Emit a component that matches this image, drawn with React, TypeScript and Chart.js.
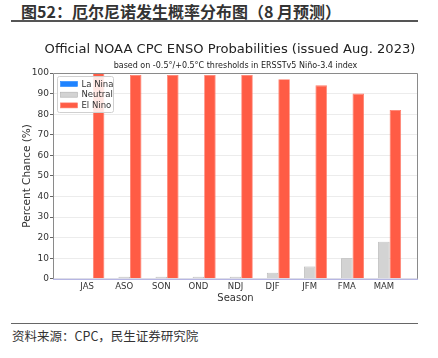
import React, { useEffect, useRef } from "react";
import { Chart, registerables } from "chart.js";

Chart.register(...registerables);

const seasons = ["JAS", "ASO", "SON", "OND", "NDJ", "DJF", "JFM", "FMA", "MAM"];
const laNina = [0, 0, 0, 0, 0, 0, 0, 0, 0];
const neutral = [0, 1, 1, 1, 1, 3, 6, 10, 18];
const elNino = [100, 99, 99, 99, 99, 97, 94, 90, 82];
const yTicks = [0, 10, 20, 30, 40, 50, 60, 70, 80, 90, 100];
const chartTitle = "Official NOAA CPC ENSO Probabilities (issued Aug. 2023)";
const chartSubtitle = "based on -0.5°/+0.5°C thresholds in ERSSTv5 Niño-3.4 index";

const FONT = "'DejaVu Sans', sans-serif";

const frameLegendPlugin = {
  id: "frameLegend",
  afterDraw(chart: any) {
    const { ctx, chartArea } = chart;
    const { left, top, right, bottom } = chartArea;
    ctx.save();
    // titles
    ctx.fillStyle = "#222";
    ctx.textAlign = "center";
    ctx.textBaseline = "middle";
    ctx.font = `13.1px ${FONT}`;
    ctx.fillText(chartTitle, 230, top - 23.5);
    ctx.font = `8px ${FONT}`;
    ctx.fillText(chartSubtitle, (left + right) / 2, top - 7);
    ctx.textAlign = "left";
    // spines
    ctx.strokeStyle = "#8a8a8a";
    ctx.lineWidth = 1;
    ctx.beginPath();
    ctx.moveTo(left + 0.5, bottom);
    ctx.lineTo(left + 0.5, top + 0.5);
    ctx.lineTo(right - 0.5, top + 0.5);
    ctx.lineTo(right - 0.5, bottom);
    ctx.stroke();
    ctx.strokeStyle = "#a4a4dc";
    ctx.beginPath();
    ctx.moveTo(left, bottom + 0.5);
    ctx.lineTo(right, bottom + 0.5);
    ctx.stroke();
    // legend box
    const bx = left + 4.5;
    const by = top + 3.5;
    const bw = 56;
    const bh = 36;
    ctx.fillStyle = "rgba(255,255,255,0.85)";
    ctx.strokeStyle = "#d0d0d0";
    ctx.beginPath();
    const r = 2;
    ctx.moveTo(bx + r, by);
    ctx.lineTo(bx + bw - r, by);
    ctx.quadraticCurveTo(bx + bw, by, bx + bw, by + r);
    ctx.lineTo(bx + bw, by + bh - r);
    ctx.quadraticCurveTo(bx + bw, by + bh, bx + bw - r, by + bh);
    ctx.lineTo(bx + r, by + bh);
    ctx.quadraticCurveTo(bx, by + bh, bx, by + bh - r);
    ctx.lineTo(bx, by + r);
    ctx.quadraticCurveTo(bx, by, bx + r, by);
    ctx.closePath();
    ctx.fill();
    ctx.stroke();
    ctx.font = `8.5px ${FONT}`;
    ctx.textBaseline = "middle";
    chart.data.datasets.forEach((ds: any, i: number) => {
      const cy = by + 7.5 + i * 10.7;
      ctx.fillStyle = ds.backgroundColor;
      ctx.fillRect(bx + 3, cy - 2.5, 17, 5);
      ctx.strokeStyle = ds.borderColor;
      ctx.lineWidth = 0.6;
      ctx.strokeRect(bx + 3, cy - 2.5, 17, 5);
      ctx.fillStyle = "#333";
      ctx.fillText(ds.label, bx + 24, cy + 0.5);
    });
    ctx.restore();
  },
};

export default function App() {
  const ref = useRef<HTMLCanvasElement | null>(null);

  useEffect(() => {
    if (!ref.current) return;
    const toPts = (arr: number[]) => arr.map((v, i) => ({ x: i, y: v }));
    const chart = new Chart(ref.current, {
      type: "bar",
      data: {
        datasets: [
          {
            label: "La Nina",
            data: toPts(laNina),
            backgroundColor: "#1f83ff",
            borderColor: "#1f83ff",
            borderWidth: 0.8,
          },
          {
            label: "Neutral",
            data: toPts(neutral),
            backgroundColor: "#d3d3d3",
            borderColor: "#b0b0b0",
            borderWidth: 0.8,
          },
          {
            label: "El Nino",
            data: toPts(elNino),
            backgroundColor: "#ff5c45",
            borderColor: "#ff7a68",
            borderWidth: 0.8,
          },
        ],
      },
      plugins: [frameLegendPlugin],
      options: {
        animation: false,
        responsive: false,
        devicePixelRatio: 1,
        layout: { padding: { left: 0, right: 20, top: 45, bottom: 16 } },
        datasets: {
          bar: { categoryPercentage: 0.93, barPercentage: 1.0 },
        },
        plugins: {
          legend: { display: false },
          tooltip: { enabled: false },
          title: { display: false },
          subtitle: { display: false },
        },
        scales: {
          x: {
            type: "linear",
            offset: false,
            min: -0.92,
            max: 8.92,
            afterBuildTicks: (scale: any) => {
              scale.ticks = seasons.map((_, i) => ({ value: i }));
            },
            ticks: {
              autoSkip: false,
              maxRotation: 0,
              padding: 3,
              color: "#333",
              font: { family: FONT, size: 8.5 },
              callback: (v: any) => seasons[Math.round(Number(v))] ?? "",
            },
            grid: { display: false, drawTicks: false },
            border: { display: false },
            title: {
              display: true,
              text: "Season",
              color: "#333",
              font: { family: FONT, size: 10 },
              padding: { top: -3, bottom: 0 },
            },
          },
          y: {
            min: 0,
            max: 100,
            afterBuildTicks: (scale: any) => {
              scale.ticks = yTicks.map((v) => ({ value: v }));
            },
            afterFit: (scale: any) => {
              scale.width = 53;
            },
            ticks: {
              padding: 1,
              color: "#333",
              font: { family: FONT, size: 9 },
            },
            grid: {
              color: "#ececec",
              lineWidth: 1,
              tickLength: 3,
              tickColor: "#666",
            },
            border: { display: false },
            title: {
              display: true,
              text: "Percent Chance (%)",
              color: "#333",
              font: { family: FONT, size: 10.5 },
              padding: { top: 21, bottom: 0 },
            },
          },
        },
      },
    } as any);
    return () => chart.destroy();
  }, []);

  return (
    <div
      style={{
        position: "fixed",
        left: 0,
        top: 0,
        width: 438,
        height: 358,
        background: "#fff",
        overflow: "hidden",
      }}
    >
      <div
        style={{
          position: "absolute",
          left: 21,
          top: 0,
          fontFamily: "'Noto Sans CJK SC', sans-serif",
          fontWeight: 700,
          fontSize: 16,
          lineHeight: "22px",
          color: "#333",
          whiteSpace: "nowrap",
        }}
      >
        图52：厄尔尼诺发生概率分布图（8 月预测）
      </div>
      <div
        style={{
          position: "absolute",
          left: 11,
          top: 20,
          width: 407,
          height: 2,
          background: "#555",
        }}
      />
      <canvas
        ref={ref}
        width={438}
        height={292}
        style={{ position: "absolute", left: 0, top: 28, width: 438, height: 292 }}
      />
      <div
        style={{
          position: "absolute",
          left: 11,
          top: 322.5,
          width: 407,
          height: 1.5,
          background: "#666",
        }}
      />
      <div
        style={{
          position: "absolute",
          left: 12,
          top: 327,
          fontFamily: "'Noto Sans CJK SC', sans-serif",
          fontSize: 12.5,
          lineHeight: "18px",
          color: "#333",
          whiteSpace: "nowrap",
        }}
      >
        资料来源：CPC，民生证券研究院
      </div>
    </div>
  );
}
